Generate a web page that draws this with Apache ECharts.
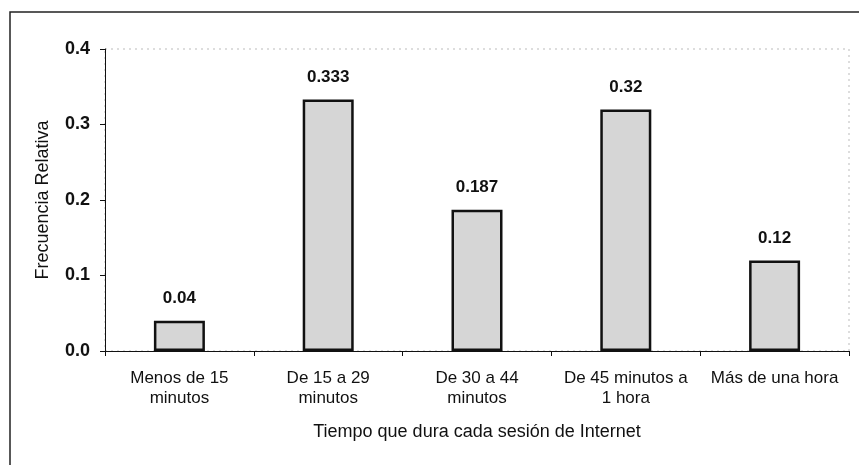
<!DOCTYPE html>
<html><head><meta charset="utf-8">
<script src="https://cdn.jsdelivr.net/npm/echarts@6/dist/echarts.min.js"></script>
<style>html,body{margin:0;padding:0;background:#fff}#c{width:859px;height:465px}</style>
</head><body><div id="c"></div>
<script>
const categories = ['Menos de 15\nminutos', 'De 15 a 29\nminutos', 'De 30 a 44\nminutos', 'De 45 minutos a\n1 hora', 'Más de una hora'];
const values = [0.04, 0.333, 0.187, 0.32, 0.12];
const valueLabels = ['0.04', '0.333', '0.187', '0.32', '0.12'];
const yTicks = [0, 0.1, 0.2, 0.3, 0.4];

const chart = echarts.init(document.getElementById('c'));
const font = 'Arial, "Liberation Sans", sans-serif';
chart.setOption({
  animation: false,
  graphic: [{
    type: 'rect', shape: {x: 10, y: 12, width: 870, height: 480},
    style: {fill: 'none', stroke: '#222', lineWidth: 1.5}, z: 0
  }, {
    type: 'rect', shape: {x: 105, y: 49, width: 744, height: 302},
    style: {fill: 'none', stroke: '#bbb', lineWidth: 1, lineDash: [2, 4]}, z: 0
  }],
  grid: {left: 105, right: 10, top: 49, bottom: 114},
  xAxis: {
    type: 'category', data: categories,
    axisLine: {lineStyle: {color: '#111', width: 1}},
    axisTick: {show: true, alignWithLabel: false, length: 5, lineStyle: {color: '#111'}},
    axisLabel: {color: '#111', fontSize: 17, fontFamily: font, lineHeight: 20, margin: 17, interval: 0},
    name: 'Tiempo que dura cada sesión de Internet',
    nameLocation: 'middle', nameGap: 72,
    nameTextStyle: {color: '#111', fontSize: 18, fontFamily: font}
  },
  yAxis: {
    type: 'value', min: 0, max: 0.4, interval: 0.1,
    axisLine: {show: true, lineStyle: {color: '#111', width: 1}},
    axisTick: {show: true, length: 5, lineStyle: {color: '#111'}},
    splitLine: {show: false},
    axisLabel: {color: '#111', fontSize: 18, fontWeight: 'bold', fontFamily: font, margin: 15,
      formatter: v => v.toFixed(1)},
    name: 'Frecuencia Relativa', nameLocation: 'middle', nameGap: 53,
    nameTextStyle: {color: '#111', fontSize: 18, fontFamily: font}
  },
  series: [{
    type: 'bar', data: values, barWidth: 51,
    itemStyle: {color: '#d6d6d6', borderColor: '#111', borderWidth: 2.5},
    label: {show: true, position: 'top', distance: 14, color: '#111', fontSize: 17, fontWeight: 'bold', fontFamily: font,
      formatter: p => valueLabels[p.dataIndex]}
  }]
});
</script></body></html>
